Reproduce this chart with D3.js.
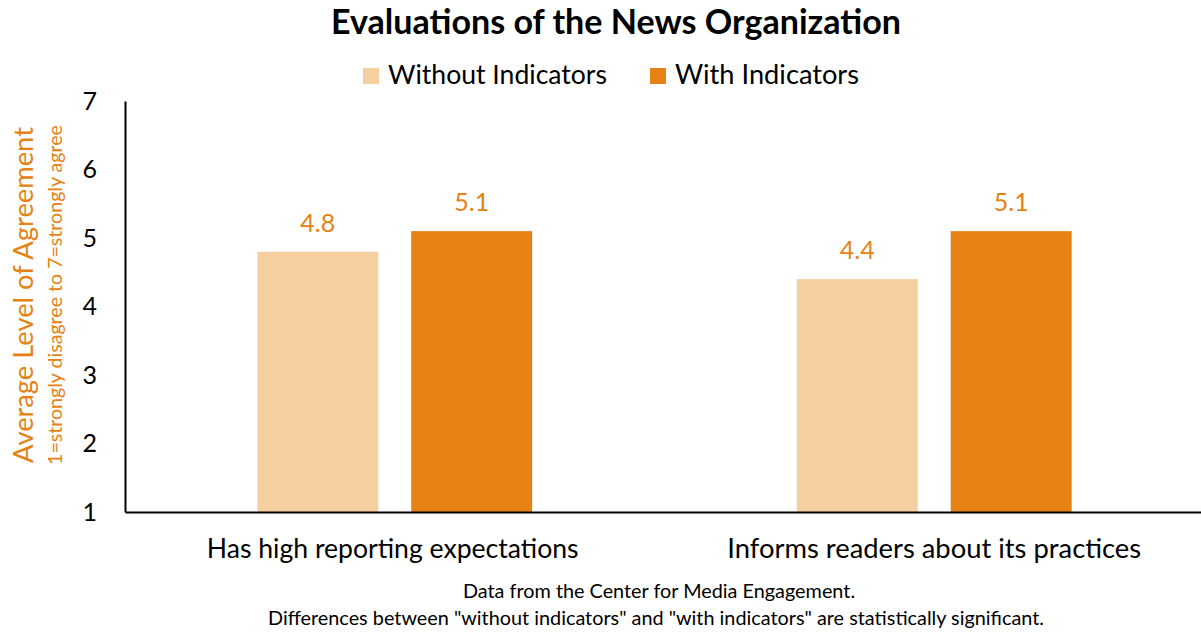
<!DOCTYPE html>
<html>
<head>
<meta charset="utf-8">
<script src="https://cdn.jsdelivr.net/npm/d3@7"></script>
<style>
  html, body { margin: 0; padding: 0; background: #fff; }
  svg { display: block; font-family: Lato, "Open Sans", sans-serif; }
</style>
</head>
<body>
<svg id="chart" width="1201" height="634"></svg>
<script>
// Chart data
const categories = ["Has high reporting expectations", "Informs readers about its practices"];
const seriesNames = ["Without Indicators", "With Indicators"];
const withoutIndicators = [4.8, 4.4];
const withIndicators = [5.1, 5.1];
const yTickValues = [1, 2, 3, 4, 5, 6, 7];

const seriesColors = ["#F6CFA0", "#E58213"];
const accent = "#E58213";

const rows = categories.map((c, i) => ({
  category: c,
  values: [withoutIndicators[i], withIndicators[i]]
}));

const svg = d3.select("#chart");

// Scale a text element's font size so that it spans a given width
function fitWidth(sel, width) {
  const w = sel.node().getComputedTextLength();
  const fs = parseFloat(sel.attr("font-size"));
  sel.attr("font-size", (fs * width / w).toFixed(2));
  return parseFloat(sel.attr("font-size"));
}

const plot = { left: 125, right: 1204, top: 101, bottom: 512 };

const x0 = d3.scaleBand().domain(categories).range([plot.left, plot.right]).padding(0);
const x1 = d3.scaleBand().domain(seriesNames).range([0, x0.bandwidth()])
  .paddingInner(0.214).paddingOuter(0.86);
const y = d3.scaleLinear().domain([1, 7]).range([plot.bottom, plot.top]);

// Title
const title = svg.append("text")
  .attr("x", 616).attr("y", 34)
  .attr("text-anchor", "middle")
  .attr("font-weight", "bold")
  .attr("font-size", 28)
  .attr("fill", "#000")
  .text("Evaluations of the News Organization");
fitWidth(title, 570);

// Legend
const legend = svg.append("g").attr("class", "legend");
let lx = 363;
seriesNames.forEach((name, i) => {
  legend.append("rect")
    .attr("x", lx).attr("y", 68)
    .attr("width", 16).attr("height", 16)
    .attr("fill", seriesColors[i]);
  const t = legend.append("text")
    .attr("x", lx + 25).attr("y", 84)
    .attr("font-size", 24)
    .attr("fill", "#000")
    .text(name);
  fitWidth(t, i === 0 ? 219 : 184);
  lx = lx + 25 + t.node().getComputedTextLength() + 43;
});

// Bars
const groups = svg.append("g").selectAll("g")
  .data(rows).join("g")
  .attr("transform", d => `translate(${x0(d.category)},0)`);

groups.selectAll("rect")
  .data(d => d.values.map((v, i) => ({ series: seriesNames[i], value: v, i })))
  .join("rect")
  .attr("x", d => x1(d.series))
  .attr("width", x1.bandwidth())
  .attr("y", d => y(d.value))
  .attr("height", d => y(1) - y(d.value))
  .attr("fill", d => seriesColors[d.i]);

// Value labels
const probe = svg.append("text").attr("font-size", 24).text("5.1");
const valueSize = fitWidth(probe, 35);
probe.remove();

groups.selectAll("text.value")
  .data(d => d.values.map((v, i) => ({ series: seriesNames[i], value: v })))
  .join("text")
  .attr("class", "value")
  .attr("x", d => x1(d.series) + x1.bandwidth() / 2)
  .attr("y", d => y(d.value) - 20)
  .attr("text-anchor", "middle")
  .attr("font-size", valueSize)
  .attr("fill", accent)
  .text(d => d3.format(".1f")(d.value));

// Y axis
const yAxis = svg.append("g")
  .attr("transform", `translate(${plot.left},0)`)
  .call(d3.axisLeft(y).tickValues(yTickValues).tickSize(0).tickSizeOuter(0).tickPadding(28).tickFormat(d3.format("d")));
yAxis.select(".domain").attr("stroke", "#000").attr("stroke-width", 2);
yAxis.selectAll("text")
  .attr("font-size", valueSize)
  .attr("font-family", "Lato, 'Open Sans', sans-serif")
  .attr("fill", "#000");

// X axis
const xAxis = svg.append("g")
  .attr("transform", `translate(0,${plot.bottom})`)
  .call(d3.axisBottom(x0).tickSize(0).tickSizeOuter(0).tickFormat(() => ""));
xAxis.select(".domain").attr("stroke", "#000").attr("stroke-width", 2);
xAxis.selectAll(".tick text").remove();

// Category labels
const catWidths = [372, 414];
categories.forEach((c, i) => {
  const t = svg.append("text")
    .attr("x", x0(c) + x0.bandwidth() / 2 - (i === 0 ? 2 : 0))
    .attr("y", 558)
    .attr("text-anchor", "middle")
    .attr("font-size", 24)
    .attr("fill", "#000")
    .text(c);
  fitWidth(t, catWidths[i]);
});

// Y axis titles
const yTitle = svg.append("text")
  .attr("transform", "translate(33,295) rotate(-90)")
  .attr("text-anchor", "middle")
  .attr("font-size", 24)
  .attr("fill", accent)
  .text("Average Level of Agreement");
fitWidth(yTitle, 336);

const ySub = svg.append("text")
  .attr("transform", "translate(62,295) rotate(-90)")
  .attr("text-anchor", "middle")
  .attr("font-size", 15)
  .attr("fill", accent)
  .text("1=strongly disagree to 7=strongly agree");
fitWidth(ySub, 340);

// Footnote
const notes = [
  "Data from the Center for Media Engagement.",
  "Differences between \"without indicators\" and \"with indicators\" are statistically significant."
];
const note2 = svg.append("text")
  .attr("x", 656).attr("y", 625)
  .attr("text-anchor", "middle")
  .attr("font-size", 16)
  .attr("fill", "#000")
  .text(notes[1]);
const noteSize = fitWidth(note2, 776);
svg.append("text")
  .attr("x", 659).attr("y", 598)
  .attr("text-anchor", "middle")
  .attr("font-size", noteSize)
  .attr("fill", "#000")
  .text(notes[0]);
</script>
</body>
</html>
